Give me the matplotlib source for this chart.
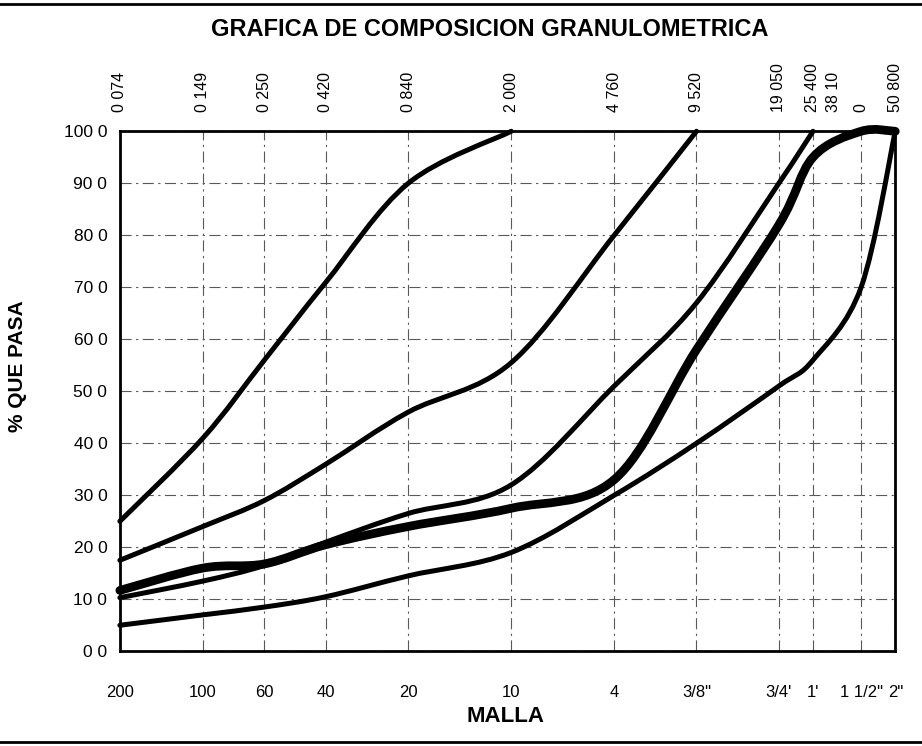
import numpy as np
import matplotlib
matplotlib.use("Agg")
import matplotlib.pyplot as plt
from matplotlib.path import Path
from matplotlib.patches import PathPatch
from matplotlib.lines import Line2D
from matplotlib.ticker import NullLocator

plt.rcParams['font.family'] = ['Liberation Sans', 'DejaVu Sans']

# sieve openings (mm) and mesh names
sizes_mm = [0.074, 0.149, 0.250, 0.420, 0.840, 2.000, 4.760, 9.520, 19.050, 25.400, 38.100, 50.800]
mesh_labels = ['200', '100', '60', '40', '20', '10', '4', '3/8"', "3/4'", "1'", '1 1/2"', '2"']
size_labels = ['0 074', '0 149', '0 250', '0 420', '0 840', '2 000', '4 760', '9 520',
               '19 050', '25 400', '0', '50 800']
y_ticks = [0, 10, 20, 30, 40, 50, 60, 70, 80, 90, 100]
y_labels = ['0 0', '10 0', '20 0', '30 0', '40 0', '50 0', '60 0', '70 0', '80 0', '90 0', '100 0']

# % passing (each curve starts at 0.074 mm)
limite_1 = [25, 41, 56, 71, 90, 100]
limite_2 = [17.5, 24, 29, 36, 46, 55.5, 80, 100]
limite_3 = [10.3, 13.5, 16.5, 21, 26.5, 32, 51, 67, 90, 100]
limite_4 = [5, 7, 8.5, 10.5, 14.5, 19, 30, 40, 51, 56, 70, 100]
muestra = [11.7, 16, 16.8, 20.5, 24, 27.5, 33, 58, 82, 95, 100, 100]


def smooth_path(xs, ys):
    # excel-like smoothed line: bezier through the points, built in log-x space
    pts = np.column_stack([np.log10(xs), ys])
    n = len(pts)
    verts = [pts[0]]
    codes = [Path.MOVETO]
    for i in range(n - 1):
        p0 = pts[max(i - 1, 0)]
        p1 = pts[i]
        p2 = pts[i + 1]
        p3 = pts[min(i + 2, n - 1)]
        verts += [p1 + (p2 - p0) / 6, p2 - (p3 - p1) / 6, p2]
        codes += [Path.CURVE4] * 3
    verts = np.array(verts)
    verts[:, 0] = 10 ** verts[:, 0]
    return Path(verts, codes)


fig = plt.figure(figsize=(9.22, 7.46), dpi=100)
ax = fig.add_axes([0.130, 0.127, 0.841, 0.697])

ax.set_xscale('log')
ax.set_xlim(sizes_mm[0], sizes_mm[-1])
ax.set_ylim(0, 100)

grid_style = dict(color='0.35', lw=0.8, ls=(0, (10, 4, 2, 4)))
ax.set_xticks(sizes_mm)
ax.set_xticklabels(mesh_labels)
ax.xaxis.set_minor_locator(NullLocator())
ax.set_yticks(y_ticks)
ax.set_yticklabels(y_labels)
ax.grid(True, **grid_style)
ax.tick_params(axis='x', length=0, pad=24, labelsize=12)
ax.tick_params(axis='y', length=0, pad=9, labelsize=12.5)

for s in ax.spines.values():
    s.set_linewidth(2)

for curve in [limite_1, limite_2, limite_3, limite_4]:
    p = smooth_path(sizes_mm[:len(curve)], curve)
    ax.add_patch(PathPatch(p, fill=False, lw=3.6, edgecolor='black',
                           capstyle='round', joinstyle='round', clip_on=False, zorder=3))
p = smooth_path(sizes_mm, muestra)
ax.add_patch(PathPatch(p, fill=False, lw=6.3, edgecolor='black',
                       capstyle='round', joinstyle='round', clip_on=False, zorder=4))

# top axis with sieve openings
ax2 = ax.twiny()
ax2.set_xscale('log')
ax2.set_xlim(ax.get_xlim())
ax2.set_xticks(sizes_mm)
ax2.set_xticklabels(size_labels, rotation=90)
ax2.xaxis.set_minor_locator(NullLocator())
ax2.tick_params(axis='x', length=0, pad=14, labelsize=11.5)
for s in ax2.spines.values():
    s.set_visible(False)
ax2.annotate('38 10', xy=(38.1, 1), xycoords=('data', 'axes fraction'),
             xytext=(-20, 14), textcoords='offset points', rotation=90,
             ha='center', va='bottom', fontsize=11.5)

fig.text(0.531, 0.96, 'GRAFICA DE COMPOSICION GRANULOMETRICA', ha='center', va='center',
         fontsize=17, fontweight='bold')
fig.text(0.548, 0.039, 'MALLA', ha='center', va='center', fontsize=16, fontweight='bold')
fig.text(0.019, 0.509, '% QUE PASA', ha='center', va='center', rotation=90,
         fontsize=15, fontweight='bold')

fig.add_artist(Line2D([0, 1], [0.994, 0.994], transform=fig.transFigure, color='black', lw=2))
fig.add_artist(Line2D([0, 1], [0.005, 0.005], transform=fig.transFigure, color='black', lw=2))

fig.savefig('out.png', dpi=100, facecolor='white')
